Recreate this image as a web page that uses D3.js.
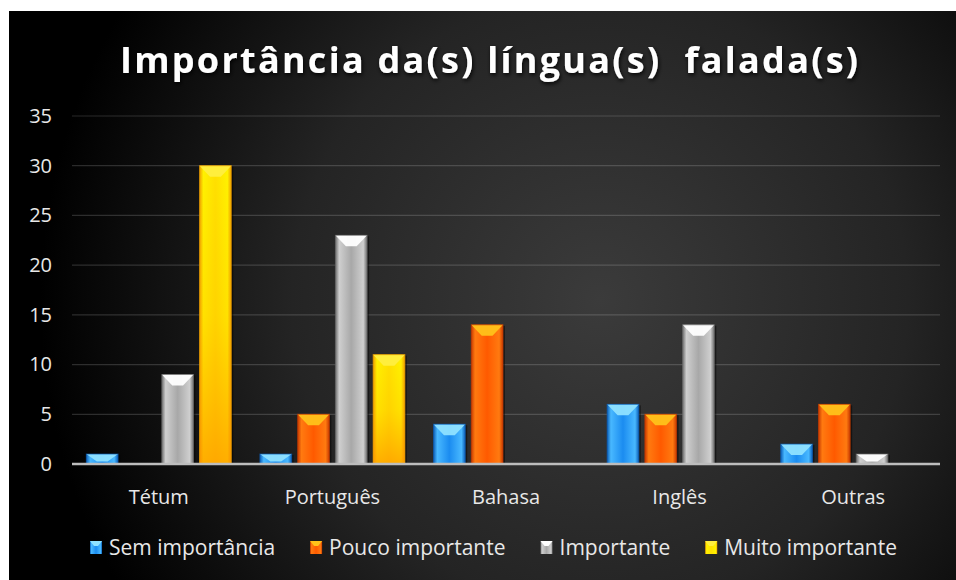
<!DOCTYPE html>
<html>
<head>
<meta charset="utf-8">
<style>
  body { margin: 0; background: #fff; }
  svg text { font-family: "Open Sans", "Noto Sans", sans-serif; }
</style>
</head>
<body>
<svg width="956" height="580"></svg>
<script src="https://cdn.jsdelivr.net/npm/d3@7"></script>
<script>

// data
var categories = ["Tétum", "Português", "Bahasa", "Inglês", "Outras"];
var seriesNames = ["Sem importância", "Pouco importante", "Importante", "Muito importante"];
var semImportancia  = [1, 1, 4, 6, 2];
var poucoImportante = [0, 5, 14, 5, 6];
var importante      = [9, 23, 0, 14, 1];
var muitoImportante = [30, 11, 0, 0, 0];
var yTicks = [0, 5, 10, 15, 20, 25, 30, 35];
var title = "Importância da(s) língua(s)  falada(s)";

var seriesValues = [semImportancia, poucoImportante, importante, muitoImportante];

// colours per series: main, light edge/top, dark side
var pal = [
  { main: "#1b8cf0", light: "#48b8ff", top: "#8fe2ff", dark: "#0d5fb8" },
  { main: "#ff5a00", light: "#ff7a10", top: "#ffc21a", dark: "#c83a00" },
  { main: "#a8a8a8", light: "#cfcfcf", top: "#ffffff", dark: "#6e6e6e" },
  { main: "#ffe000", light: "#fff200", top: "#ffee40", dark: "#f0a000" }
];

var svg = d3.select("svg"),
    margin = {top: 116, right: 16, bottom: 116, left: 72},
    width = 940 - margin.left,
    height = 464 - margin.top;

var defs = svg.append("defs");

var bg = defs.append("radialGradient").attr("id", "bg")
    .attr("gradientUnits", "userSpaceOnUse")
    .attr("cx", 600).attr("cy", 300).attr("r", 560);
bg.append("stop").attr("offset", "0").attr("stop-color", "#3b3b3b");
bg.append("stop").attr("offset", "0.55").attr("stop-color", "#242424");
bg.append("stop").attr("offset", "1").attr("stop-color", "#000");

pal.forEach(function(p, i) {
  var gr = defs.append("linearGradient").attr("id", "bar" + i)
      .attr("x1", 0).attr("x2", 1).attr("y1", 0).attr("y2", 0);
  gr.append("stop").attr("offset", "0").attr("stop-color", p.dark);
  gr.append("stop").attr("offset", "0.12").attr("stop-color", p.light);
  gr.append("stop").attr("offset", "0.5").attr("stop-color", p.main);
  gr.append("stop").attr("offset", "0.88").attr("stop-color", p.light);
  gr.append("stop").attr("offset", "1").attr("stop-color", p.dark);
});
// yellow gets a vertical warm shift toward the base
var yv = defs.append("linearGradient").attr("id", "yellowV")
    .attr("x1", 0).attr("x2", 0).attr("y1", 0).attr("y2", 1);
yv.append("stop").attr("offset", "0").attr("stop-color", "#ffa000").attr("stop-opacity", 0);
yv.append("stop").attr("offset", "0.5").attr("stop-color", "#ffa000").attr("stop-opacity", 0.2);
yv.append("stop").attr("offset", "1").attr("stop-color", "#ff9000").attr("stop-opacity", 0.7);

var glow = defs.append("filter").attr("id", "glow")
    .attr("x", "-10%").attr("y", "-30%").attr("width", "120%").attr("height", "160%");
glow.append("feDropShadow").attr("dx", 1).attr("dy", 2)
    .attr("stdDeviation", 2).attr("flood-color", "#000").attr("flood-opacity", 0.9);

svg.append("rect").attr("x", 9).attr("y", 11).attr("width", 947).attr("height", 569)
    .attr("fill", "url(#bg)");

var g = svg.append("g").attr("transform", "translate(" + margin.left + "," + margin.top + ")");

var x0 = d3.scaleBand().domain(categories).range([0, width]);
var x1 = d3.scaleBand().domain(d3.range(seriesNames.length))
    .range([0, x0.bandwidth()]).paddingInner(0.16).paddingOuter(0.38);
var y = d3.scaleLinear().domain([0, 35]).range([height, 0]);

// gridlines
g.append("g")
  .selectAll("line")
  .data(yTicks.filter(function(t) { return t > 0; }))
  .enter().append("line")
    .attr("x1", 0).attr("x2", width)
    .attr("y1", function(d) { return y(d); })
    .attr("y2", function(d) { return y(d); })
    .attr("stroke", "#fff").attr("stroke-opacity", 0.16).attr("stroke-width", 1.2);

// y axis labels
var yAxis = g.append("g").call(d3.axisLeft(y).tickValues(yTicks).tickSize(0).tickPadding(20));
yAxis.select(".domain").remove();
yAxis.selectAll("text").attr("fill", "#e8e8e8").style("font-size", "20px");

// bars
var groups = g.selectAll(".grp")
  .data(categories)
  .enter().append("g")
    .attr("class", "grp")
    .attr("transform", function(d) { return "translate(" + x0(d) + ",0)"; });

groups.each(function(cat, ci) {
  var grp = d3.select(this);
  seriesValues.forEach(function(vals, si) {
    var v = vals[ci];
    if (!v) return;
    var bx = x1(si), bw = x1.bandwidth(), by = y(v), bh = y(0) - y(v);
    var b = grp.append("g");
    b.append("rect").attr("x", bx + 2).attr("y", by + 1).attr("width", bw).attr("height", bh - 1)
      .attr("fill", "#000").attr("opacity", 0.45);
    b.append("rect").attr("x", bx).attr("y", by).attr("width", bw).attr("height", bh)
      .attr("fill", "url(#bar" + si + ")");
    if (si === 3) {
      b.append("rect").attr("x", bx).attr("y", by).attr("width", bw).attr("height", bh)
        .attr("fill", "url(#yellowV)");
    }
    var d = Math.min(11, bh * 0.75), ins = bw * 0.33;
    b.append("path")
      .attr("d", "M" + bx + "," + by + "L" + (bx + bw) + "," + by +
                 "L" + (bx + bw - ins) + "," + (by + d) + "L" + (bx + ins) + "," + (by + d) + "Z")
      .attr("fill", pal[si].top).attr("opacity", 0.95);
    b.append("rect").attr("x", bx).attr("y", by).attr("width", bw).attr("height", bh)
      .attr("fill", "none").attr("stroke", pal[si].dark).attr("stroke-width", 1).attr("stroke-opacity", 0.7);
  });
});

// x axis line
g.append("line").attr("x1", 0).attr("x2", width).attr("y1", y(0)).attr("y2", y(0))
  .attr("stroke", "#bdbdbd").attr("stroke-width", 2.5);

// category labels
g.selectAll(".cat")
  .data(categories)
  .enter().append("text")
    .attr("class", "cat")
    .attr("x", function(d) { return x0(d) + x0.bandwidth() / 2; })
    .attr("y", height + 40)
    .attr("text-anchor", "middle")
    .attr("fill", "#e8e8e8")
    .style("font-size", "20px")
    .text(function(d) { return d; });

// title, stretched to the width seen in the picture
var t = svg.append("text")
  .attr("x", 489).attr("y", 73)
  .attr("text-anchor", "middle")
  .attr("fill", "#fff")
  .attr("filter", "url(#glow)")
  .style("font-size", "36px").style("font-weight", "bold")
  .style("white-space", "pre")
  .text(title);
var tw = t.node().getComputedTextLength();
var ls = (738 - tw) / (title.length - 1);
t.style("letter-spacing", ls + "px").attr("x", 489 + ls / 2);

// legend
var legend = svg.append("g");
var lx = 0;
seriesNames.forEach(function(name, i) {
  var it = legend.append("g");
  it.append("rect").attr("x", 0).attr("y", -7).attr("width", 12).attr("height", 13)
    .attr("fill", "url(#bar" + i + ")");
  it.append("path").attr("d", "M0,-7L12,-7L8,-2L4,-2Z").attr("fill", pal[i].top);
  var tx = it.append("text").attr("x", 19).attr("y", 7)
    .attr("fill", "#e8e8e8").style("font-size", "21px").text(name);
  var w = 19 + tx.node().getComputedTextLength();
  it.attr("transform", "translate(" + lx + ",0)");
  lx += w + 35;
});
lx -= 35;
legend.attr("transform", "translate(" + (493.5 - lx / 2) + ",548)");

</script>
</body>
</html>
